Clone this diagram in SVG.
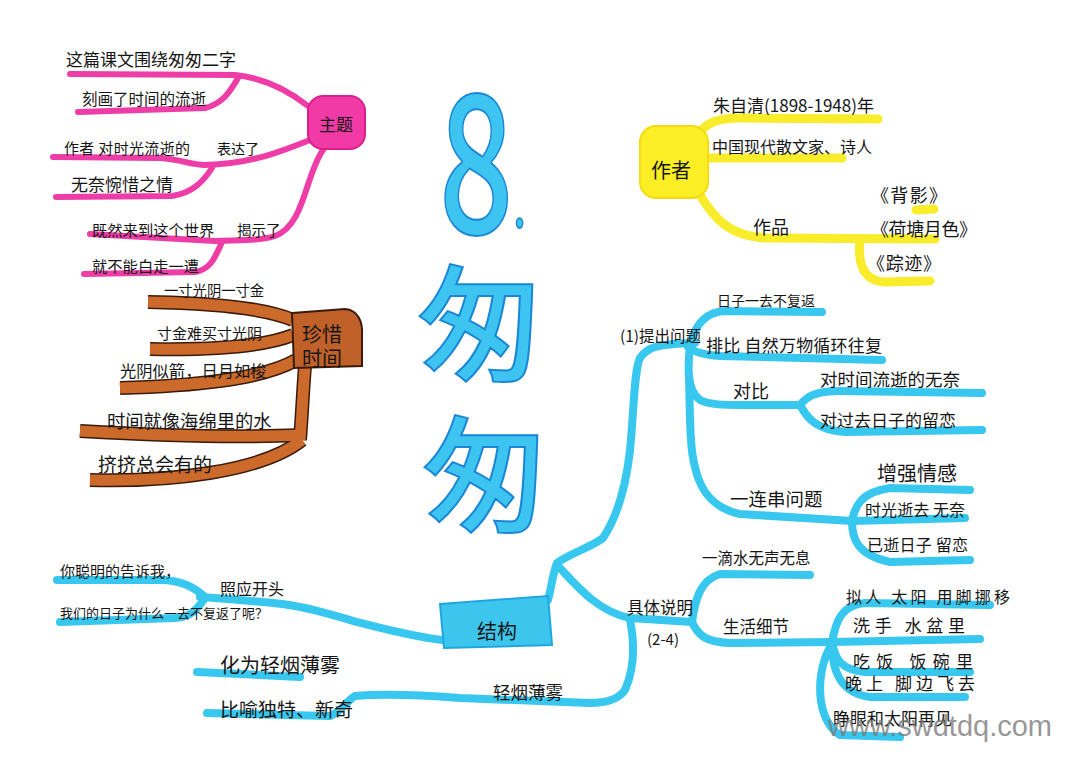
<svg xmlns="http://www.w3.org/2000/svg" width="1080" height="771" viewBox="0 0 1080 771">
<style>
.t{font-family:"Noto Sans CJK SC","Noto Sans",sans-serif;fill:#151515}
.pk{fill:none;stroke:#ee3da6;stroke-width:6;stroke-linecap:round;stroke-linejoin:round}
.yl{fill:none;stroke:#f9ec2a;stroke-width:9;stroke-linecap:round;stroke-linejoin:round}
.cy{fill:none;stroke:#38c7ee;stroke-width:8;stroke-linecap:round;stroke-linejoin:round}
.bro{fill:none;stroke:#3a1a08;stroke-width:14;stroke-linecap:butt}
.br{fill:none;stroke:#cc6a2c;stroke-width:11;stroke-linecap:butt}
.big{font-family:"Noto Sans CJK SC","Liberation Sans",sans-serif;font-weight:500;fill:#3ec4f1;stroke:#1a86d6;stroke-width:2}
</style>
<defs>
<path id="b1" d="M148,302 C200,303 260,306 293,320"/>
<path id="b2" d="M150,349 C200,350 260,348 293,335"/>
<path id="b3" d="M120,388 C190,386 262,380 296,360"/>
<path id="b4" d="M305,366 C303,390 302,415 300,440"/>
<path id="b5" d="M80,431 C150,435 240,438 300,435"/>
<path id="b6" d="M90,480 C170,482 262,472 302,440"/>
</defs>
<rect width="1080" height="771" fill="#ffffff"/>

<g id="connectors">
  <path class="pk" d="M308,106 C290,92 265,78 235,75 L70,74"/>
  <path class="pk" d="M238,78 C230,92 222,104 205,108 L78,112"/>
  <path class="pk" d="M310,140 C280,152 250,164 205,165 C190,165 180,159 160,158 L53,157"/>
  <path class="pk" d="M212,168 C203,182 192,193 172,196 L56,197"/>
  <path class="pk" d="M323,150 C305,175 305,225 275,236 C260,241 240,240 215,241 L90,234"/>
  <path class="pk" d="M222,242 C215,258 210,270 195,272 L84,274"/>
  <use href="#b1" class="bro"/><use href="#b2" class="bro"/><use href="#b3" class="bro"/>
  <use href="#b4" class="bro"/><use href="#b5" class="bro"/><use href="#b6" class="bro"/>
  <use href="#b1" class="br"/><use href="#b2" class="br"/><use href="#b3" class="br"/>
  <use href="#b4" class="br"/><use href="#b5" class="br"/><use href="#b6" class="br"/>
  <path class="yl" d="M698,135 C705,124 715,118 740,118 L878,119"/>
  <path class="yl" d="M706,158 L842,158"/>
  <path class="yl" d="M700,195 C712,215 728,238 770,238 L935,239"/>
  <path class="yl" d="M860,240 C858,258 860,281 885,282 L930,281"/>
  <path class="yl" d="M916,210 L934,209" stroke-width="6"/>
  <path class="cy" d="M548,600 C552,585 553,572 557,563 C572,552 590,548 603,538 C615,520 625,495 630,450 C634,410 634,370 640,358 C648,346 660,344 695,343"/>
  <path class="cy" d="M690,345 C695,325 705,312 725,311 L822,312"/>
  <path class="cy" d="M688,347 C695,353 705,355 720,356 L882,360"/>
  <path class="cy" d="M690,347 C688,365 686,390 700,400 C710,405 725,405 740,405 L800,405"/>
  <path class="cy" d="M800,405 C808,395 818,391 840,391 L982,393"/>
  <path class="cy" d="M800,405 C808,420 818,430 845,432 L982,430"/>
  <path class="cy" d="M689,375 C690,420 690,450 695,467 C700,490 712,508 740,514 L852,521"/>
  <path class="cy" d="M852,521 C855,505 862,492 890,488 L970,490"/>
  <path class="cy" d="M852,521 L965,518"/>
  <path class="cy" d="M852,521 C852,540 858,555 890,562 L970,560"/>
  <path class="cy" d="M560,568 C580,590 600,612 630,618 L692,622"/>
  <path class="cy" d="M692,622 C695,600 700,580 720,574 L810,575"/>
  <path class="cy" d="M692,622 C698,635 705,642 730,643 L832,642"/>
  <path class="cy" d="M832,642 C836,620 842,605 865,603 L990,605"/>
  <path class="cy" d="M832,642 L980,639"/>
  <path class="cy" d="M832,642 C835,660 842,670 865,672 L970,672"/>
  <path class="cy" d="M832,644 C832,670 840,693 870,697 L965,697"/>
  <path class="cy" d="M832,644 C815,670 815,720 840,735 L900,737"/>
  <path class="cy" d="M630,620 C634,640 636,665 625,690 C618,700 605,703 590,703 L460,698 C420,695 380,694 355,696 C345,702 342,712 330,716 L207,713"/>
  <path class="cy" d="M197,672 L300,677"/>
  <path class="cy" d="M442,640 C410,636 380,628 357,622 C330,614 300,605 273,603 C240,600 215,598 200,597"/>
  <path class="cy" d="M205,597 C195,588 185,582 165,580 L57,580"/>
  <path class="cy" d="M205,598 C198,608 192,617 175,618 L60,622"/>
</g>

<g id="title">
  <text class="big" transform="translate(439,233) scale(0.68,1)" font-size="192">8<tspan font-size="60" dy="-6">.</tspan></text>
  <text class="big" x="480" y="371" font-size="126" text-anchor="middle">匆</text>
  <text class="big" x="485" y="522" font-size="126" text-anchor="middle">匆</text>
</g>

<g id="node-theme">
  <rect x="308" y="96" width="57" height="53" rx="15" fill="#f23aa6" stroke="#d81f8c" stroke-width="2"/>
  <text class="t" x="336" y="131" font-size="17" text-anchor="middle">主题</text>
  <text class="t" x="66" y="66" font-size="17">这篇课文围绕匆匆二字</text>
  <text class="t" x="82" y="105" font-size="15.5">刻画了时间的流逝</text>
  <text class="t" x="64" y="154" font-size="15" textLength="126">作者 对时光流逝的</text>
  <text class="t" x="217" y="154" font-size="14">表达了</text>
  <text class="t" x="71" y="191" font-size="17">无奈惋惜之情</text>
  <text class="t" x="92" y="236" font-size="15.3">既然来到这个世界</text>
  <text class="t" x="237" y="236" font-size="14.5">揭示了</text>
  <text class="t" x="92" y="272" font-size="15.3">就不能白走一遭</text>
</g>

<g id="node-cherish">
  <path d="M292,313 L345,309 C358,310 363,322 362,335 L362,366 L294,368 Z" fill="#c0612a" stroke="#3a1a08" stroke-width="2"/>
  <text class="t" x="322" y="342" font-size="20" text-anchor="middle">珍惜</text>
  <text class="t" x="322" y="366" font-size="20" text-anchor="middle">时间</text>
  <text class="t" x="164" y="296" font-size="14.3">一寸光阴一寸金</text>
  <text class="t" x="157" y="339" font-size="15">寸金难买寸光阴</text>
  <text class="t" x="120" y="377" font-size="16.3">光阴似箭，日月如梭</text>
  <text class="t" x="107" y="428" font-size="18.3">时间就像海绵里的水</text>
  <text class="t" x="98" y="472" font-size="19">挤挤总会有的</text>
</g>

<g id="node-author">
  <rect x="640" y="126" width="68" height="72" rx="16" fill="#fbee24" stroke="#f3dd10" stroke-width="2"/>
  <text class="t" x="671" y="178" font-size="20" text-anchor="middle">作者</text>
  <text class="t" x="713" y="112" font-size="17" textLength="161">朱自清(1898-1948)年</text>
  <text class="t" x="712" y="153" font-size="16">中国现代散文家、诗人</text>
  <text class="t" x="753" y="234" font-size="18">作品</text>
  <text class="t" x="871" y="202" font-size="18" textLength="76">《背影》</text>
  <text class="t" x="871" y="236" font-size="18" textLength="106">《荷塘月色》</text>
  <text class="t" x="867" y="270" font-size="18" textLength="74">《踪迹》</text>
</g>

<g id="node-structure">
  <path d="M440,604 L548,596 L552,645 L444,648 Z" fill="#3cc6ee" stroke="#1fa6e0" stroke-width="2"/>
  <text class="t" x="497" y="639" font-size="20" text-anchor="middle">结构</text>
  <text class="t" x="620" y="342" font-size="15.5">(1)提出问题</text>
  <text class="t" x="717" y="306" font-size="14">日子一去不复返</text>
  <text class="t" x="706" y="352" font-size="17" textLength="176">排比 自然万物循环往复</text>
  <text class="t" x="733" y="398" font-size="18">对比</text>
  <text class="t" x="820" y="386" font-size="17.5">对时间流逝的无奈</text>
  <text class="t" x="820" y="427" font-size="17">对过去日子的留恋</text>
  <text class="t" x="730" y="506" font-size="18.5">一连串问题</text>
  <text class="t" x="877" y="481" font-size="20">增强情感</text>
  <text class="t" x="865" y="516" font-size="16" textLength="100">时光逝去 无奈</text>
  <text class="t" x="867" y="551" font-size="16" textLength="101">已逝日子 留恋</text>
  <text class="t" x="702" y="564" font-size="15.5">一滴水无声无息</text>
  <text class="t" x="627" y="614" font-size="16.5">具体说明</text>
  <text class="t" x="647" y="645" font-size="15">(2-4)</text>
  <text class="t" x="723" y="633" font-size="16.5">生活细节</text>
  <text class="t" x="846" y="603" font-size="16" textLength="164">拟人 太阳 用脚挪移</text>
  <text class="t" x="853" y="632" font-size="17" textLength="112">洗手 水盆里</text>
  <text class="t" x="853" y="668" font-size="17" textLength="120">吃饭 饭碗里</text>
  <text class="t" x="845" y="690" font-size="17" textLength="130">晚上 脚边飞去</text>
  <text class="t" x="833" y="725" font-size="17">睁眼和太阳再见</text>
  <text class="t" x="493" y="699" font-size="17.5">轻烟薄雾</text>
  <text class="t" x="220" y="673" font-size="20">化为轻烟薄雾</text>
  <text class="t" x="220" y="717" font-size="19">比喻独特、新奇</text>
  <text class="t" x="220" y="595" font-size="16">照应开头</text>
  <text class="t" x="60" y="577" font-size="15">你聪明的告诉我，</text>
  <text class="t" x="60" y="618" font-size="13" textLength="208">我们的日子为什么一去不复返了呢？</text>
</g>

<text x="828" y="736" font-family="Liberation Sans" font-size="29" fill="#7a7a7a" fill-opacity="0.8">www.swdtdq.com</text>
</svg>
